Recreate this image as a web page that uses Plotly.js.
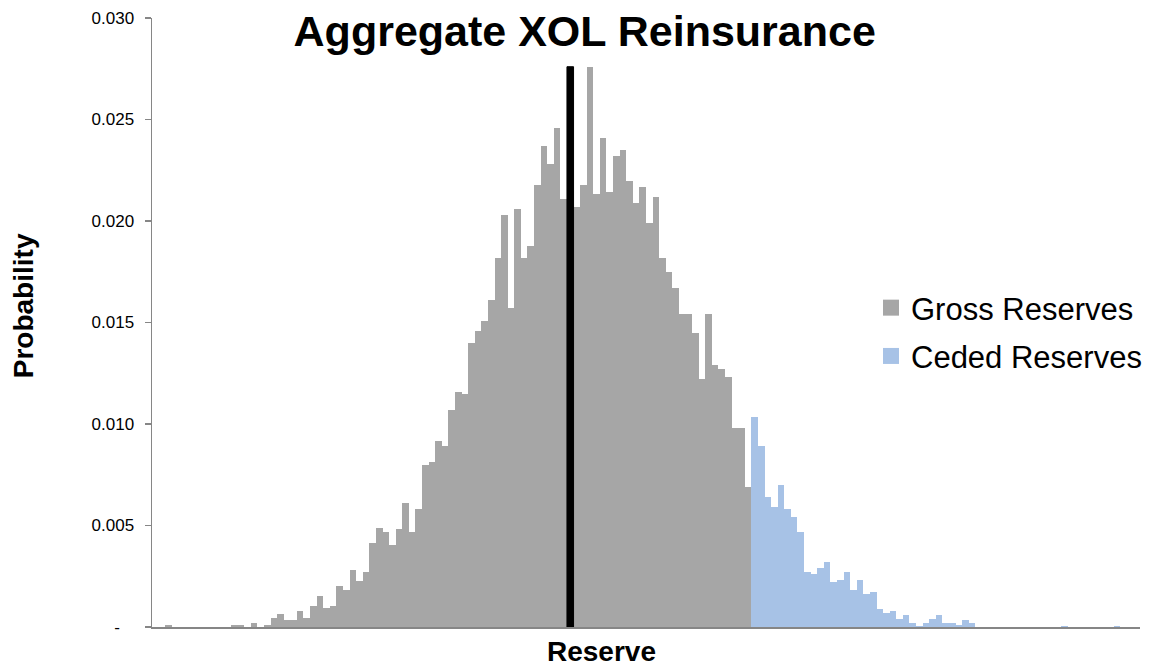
<!DOCTYPE html>
<html>
<head>
<meta charset="utf-8">
<script src="https://cdn.plot.ly/plotly-3.0.1.min.js"></script>
<style>html,body{margin:0;padding:0;background:#fff;}#chart{width:1151px;height:667px;}</style>
</head>
<body>
<div id="chart"></div>
<script>
// Bin indices of the reserve histogram (150 bins, no labels shown on the axis)
var binCount = 150;
var grossStartBin = 0;   // first bin of gross (retained) reserves
var cededStartBin = 91;  // first bin of ceded reserves
var meanBin = 63;        // bin where the mean marker sits

// Probability per bin, gross reserves (bins 0..90)
var grossReserves = [
  0, 0, 0.0001, 0, 0, 0, 0, 0, 0, 0,
  0, 0, 0.0001, 0.0001, 0, 0.0002, 0, 0.0001, 0.00044, 0.00062,
  0.00033, 0.00033, 0.0008, 0.00043, 0.00102, 0.00153, 0.00095, 0.00102, 0.002, 0.00182,
  0.00281, 0.00225, 0.00273, 0.00412, 0.0049, 0.0047, 0.00404, 0.00481, 0.00609, 0.0047,
  0.00581, 0.00798, 0.00811, 0.00918, 0.00892, 0.01069, 0.01156, 0.0115, 0.01398, 0.01458,
  0.01507, 0.01611, 0.01816, 0.0203, 0.0157, 0.02058, 0.01816, 0.01877, 0.02177, 0.02369,
  0.0228, 0.02457, 0.02108, 0.0215, 0.0207, 0.02177, 0.02757, 0.02131, 0.02407, 0.02141,
  0.0232, 0.0235, 0.02199, 0.0209, 0.02169, 0.01989, 0.02117, 0.01819, 0.01747, 0.01668,
  0.01542, 0.01542, 0.0145, 0.0122, 0.0154, 0.0129, 0.01271, 0.0123, 0.0098, 0.0098,
  0.0069
];

// Probability per bin, ceded reserves (bins 91..149)
var cededReserves = [
  0.01036, 0.00892, 0.00642, 0.00593, 0.007, 0.00581, 0.0054, 0.0047, 0.00272,
  0.00261, 0.00289, 0.00319, 0.00223, 0.00232, 0.00272, 0.00182, 0.00231, 0.00162, 0.0017,
  0.0009, 0.00068, 0.00078, 0.0004, 0.0006, 0.00019, 0.00005, 0.00019, 0.0004, 0.0006,
  0.00019, 0.00019, 0.00008, 0.00033, 0.00019, 0, 0, 0, 0, 0,
  0, 0, 0, 0, 0, 0, 0, 0, 0.00005, 0,
  0, 0, 0, 0, 0, 0, 0.00005, 0, 0, 0
];

// Mean marker height (drawn as a black bar)
var meanMarker = [0.0276];

// Y tick values and labels
var yTickVals = [0, 0.005, 0.010, 0.015, 0.020, 0.025, 0.030];
var yTickText = ['-\u00a0\u00a0\u00a0', '0.005', '0.010', '0.015', '0.020', '0.025', '0.030'];

var seriesNames = ['Gross Reserves', 'Ceded Reserves'];
var seriesColors = ['#A6A6A6', '#A7C2E6'];

function binsFrom(start, count) {
  var out = [];
  for (var i = 0; i < count; i++) out.push(start + i);
  return out;
}

var FONT = '"Liberation Sans", Arial, sans-serif';

var traces = [
  {
    type: 'bar', name: seriesNames[0], showlegend: false,
    x: binsFrom(grossStartBin, grossReserves.length), y: grossReserves,
    marker: {color: seriesColors[0], line: {width: 0}}, width: 1,
    hoverinfo: 'y'
  },
  {
    type: 'bar', name: seriesNames[1], showlegend: false,
    x: binsFrom(cededStartBin, cededReserves.length), y: cededReserves,
    marker: {color: seriesColors[1], line: {width: 0}}, width: 1,
    hoverinfo: 'y'
  },
  {
    type: 'bar', name: 'Mean', showlegend: false,
    x: [meanBin], y: meanMarker,
    marker: {color: '#000000', line: {width: 1, color: '#000000'}}, width: 1,
    hoverinfo: 'y'
  },
  // legend keys (square swatches like the original)
  {
    type: 'scatter', mode: 'markers', name: seriesNames[0], legendgroup: 'g',
    x: [null], y: [null],
    marker: {symbol: 'square', size: 16, color: seriesColors[0]}
  },
  {
    type: 'scatter', mode: 'markers', name: seriesNames[1], legendgroup: 'c',
    x: [null], y: [null],
    marker: {symbol: 'square', size: 16, color: seriesColors[1]}
  }
];

var layout = {
  width: 1151, height: 667,
  paper_bgcolor: '#ffffff', plot_bgcolor: '#ffffff',
  margin: {l: 152, r: 11, t: 18, b: 40, pad: 0, autoexpand: false},
  barmode: 'overlay', bargap: 0,
  font: {family: FONT, color: '#000000'},
  title: {
    text: '<b>Aggregate XOL Reinsurance</b>',
    font: {family: FONT, size: 43, color: '#000000'},
    xref: 'container', x: 0.508, xanchor: 'center',
    yref: 'container', y: 0.953, yanchor: 'middle'
  },
  xaxis: {
    range: [-0.5, binCount - 0.5],
    showticklabels: false, ticks: '', showgrid: false, zeroline: false,
    showline: true, linecolor: '#868686', linewidth: 1.5
  },
  yaxis: {
    range: [0, 0.030],
    tickvals: yTickVals, ticktext: yTickText,
    ticks: 'outside', ticklen: 6, tickcolor: '#868686', tickwidth: 1.5,
    ticklabelstandoff: 7,
    tickfont: {family: FONT, size: 17, color: '#000000'},
    showgrid: false, zeroline: false,
    showline: true, linecolor: '#868686', linewidth: 1.5
  },
  annotations: [
    {
      text: '<b>Probability</b>', textangle: -90, showarrow: false,
      xref: 'paper', yref: 'paper', xanchor: 'center', yanchor: 'middle',
      x: (23 - 152) / 988, y: (626.5 - 306) / 608.5,
      font: {family: FONT, size: 28, color: '#000000'}
    },
    {
      text: '<b>Reserve</b>', showarrow: false,
      xref: 'paper', yref: 'paper', xanchor: 'center', yanchor: 'middle',
      x: (601 - 152) / 988, y: (626.5 - 651) / 608.5,
      font: {family: FONT, size: 28, color: '#000000'}
    }
  ],
  showlegend: true,
  legend: {
    xref: 'container', yref: 'container',
    x: 871 / 1151, xanchor: 'left', y: 1 - 281 / 667, yanchor: 'top',
    bgcolor: 'rgba(0,0,0,0)', borderwidth: 0,
    font: {family: FONT, size: 31, color: '#000000'},
    traceorder: 'grouped', tracegroupgap: 5
  }
};

Plotly.newPlot('chart', traces, layout, {displayModeBar: false, staticPlot: true});
</script>
</body>
</html>
